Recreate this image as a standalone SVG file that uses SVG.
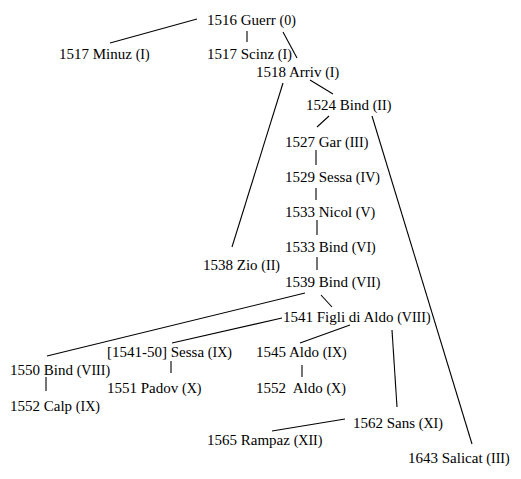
<svg xmlns="http://www.w3.org/2000/svg" width="521" height="479" viewBox="0 0 521 479">
<style>
text{font-family:"Liberation Serif","Times New Roman",serif;font-size:15px;fill:#000}
.r{font-size:14px}
#connectors line{stroke:#000;stroke-width:1.1}
</style>
<rect width="521" height="479" fill="#fff"/>
<g id="connectors">
<line x1="197" y1="19" x2="110" y2="43"/>
<line x1="247" y1="31" x2="247" y2="42"/>
<line x1="283" y1="32" x2="297" y2="58"/>
<line x1="283" y1="83" x2="232" y2="247"/>
<line x1="310" y1="80" x2="333" y2="94"/>
<line x1="329" y1="116" x2="317" y2="127"/>
<line x1="372" y1="116" x2="472" y2="444"/>
<line x1="316" y1="150" x2="316" y2="165"/>
<line x1="316" y1="188" x2="316" y2="200"/>
<line x1="317" y1="220" x2="317" y2="235"/>
<line x1="317" y1="257" x2="317" y2="270"/>
<line x1="305" y1="293" x2="47" y2="356"/>
<line x1="321" y1="295" x2="332" y2="307"/>
<line x1="282" y1="318" x2="172" y2="343"/>
<line x1="350" y1="325" x2="300" y2="343"/>
<line x1="392" y1="330" x2="397" y2="407"/>
<line x1="171" y1="361" x2="171" y2="373"/>
<line x1="302" y1="365" x2="302" y2="377"/>
<line x1="46" y1="377" x2="46" y2="391"/>
<line x1="345" y1="419" x2="272" y2="431"/>
</g>
<g id="n1516guerr"><text x="207" y="25">1516 Guerr <tspan class="r">(0)</tspan></text></g>
<g id="n1517minuz"><text x="59" y="59">1517 Minuz <tspan class="r">(I)</tspan></text></g>
<g id="n1517scinz"><text x="207" y="59">1517 Scinz <tspan class="r">(I)</tspan></text></g>
<g id="n1518arriv"><text x="256" y="77">1518 Arriv <tspan class="r">(I)</tspan></text></g>
<g id="n1524bind"><text x="306" y="110">1524 Bind <tspan class="r">(II)</tspan></text></g>
<g id="n1527gar"><text x="285" y="147">1527 Gar <tspan class="r">(III)</tspan></text></g>
<g id="n1529sessa"><text x="285" y="182">1529 Sessa <tspan class="r">(IV)</tspan></text></g>
<g id="n1533nicol"><text x="285" y="217">1533 Nicol <tspan class="r">(V)</tspan></text></g>
<g id="n1533bind"><text x="285" y="252">1533 Bind <tspan class="r">(VI)</tspan></text></g>
<g id="n1538zio"><text x="203" y="270">1538 Zio <tspan class="r">(II)</tspan></text></g>
<g id="n1539bind"><text x="285" y="287">1539 Bind <tspan class="r">(VII)</tspan></text></g>
<g id="n1541figli"><text x="283" y="322">1541 Figli di Aldo <tspan class="r">(VIII)</tspan></text></g>
<g id="n1541sessa"><text x="107" y="357">[1541-50] Sessa <tspan class="r">(IX)</tspan></text></g>
<g id="n1545aldo"><text x="256" y="357">1545 Aldo <tspan class="r">(IX)</tspan></text></g>
<g id="n1550bind"><text x="10" y="375">1550 Bind <tspan class="r">(VIII)</tspan></text></g>
<g id="n1551padov"><text x="107" y="393">1551 Padov <tspan class="r">(X)</tspan></text></g>
<g id="n1552aldo"><text x="256" y="393" xml:space="preserve">1552  Aldo <tspan class="r">(X)</tspan></text></g>
<g id="n1552calp"><text x="10" y="411">1552 Calp <tspan class="r">(IX)</tspan></text></g>
<g id="n1562sans"><text x="353" y="428">1562 Sans <tspan class="r">(XI)</tspan></text></g>
<g id="n1565rampaz"><text x="207" y="445">1565 Rampaz <tspan class="r">(XII)</tspan></text></g>
<g id="n1643salicat"><text x="408" y="463">1643 Salicat <tspan class="r">(III)</tspan></text></g>
</svg>
